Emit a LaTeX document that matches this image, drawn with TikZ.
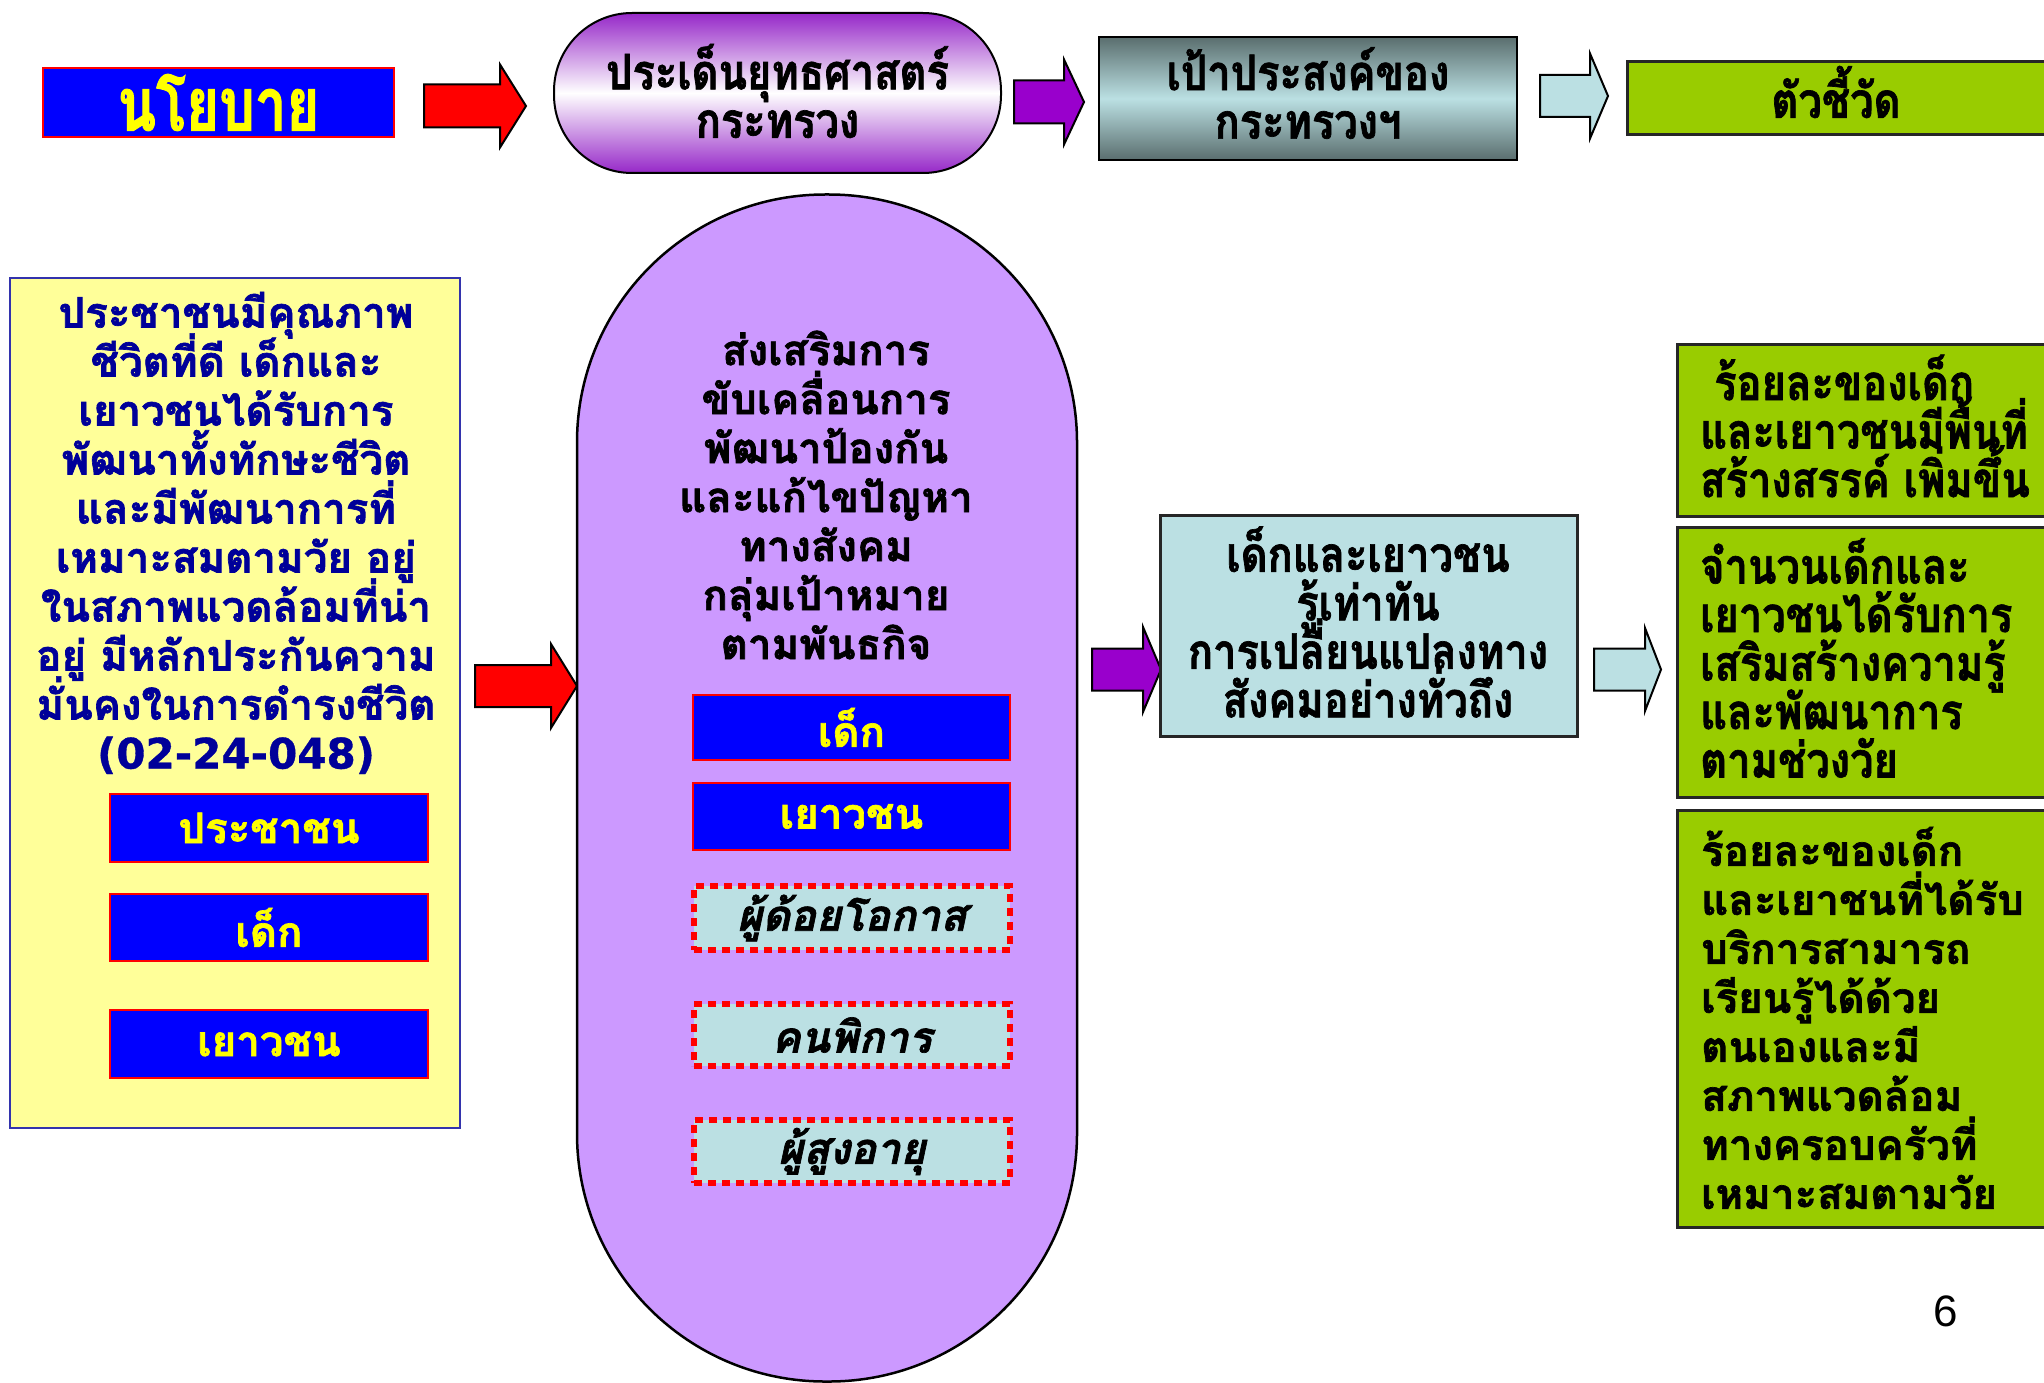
\documentclass[tikz,border=0pt]{standalone}
\usepackage{fontspec}
\setmainfont{Liberation Sans}
\newfontfamily\thai[Script=Thai,BoldFeatures={FakeBold=1.6},BoldItalicFeatures={FakeBold=1.6}]{Loma}
\newfontfamily\thaicond[Script=Thai,FakeStretch=0.85,BoldFeatures={FakeBold=1.4}]{Loma}
\newfontfamily\thaibig[Script=Thai,FakeStretch=0.76,BoldFeatures={FakeBold=1.4}]{Loma}
\newfontfamily\numfont[BoldFeatures={FakeBold=0.8}]{DejaVu Sans}
\newcommand\tightlines{\lineskiplimit=-200pt\relax}
\definecolor{pblue}{RGB}{0,0,255}
\definecolor{pyellow}{RGB}{255,255,0}
\definecolor{lyellow}{RGB}{255,255,153}
\definecolor{navy}{RGB}{0,0,153}
\definecolor{lpurple}{RGB}{204,153,255}
\definecolor{dpurple}{RGB}{153,0,204}
\definecolor{gpurple}{RGB}{150,40,200}
\definecolor{lblue}{RGB}{187,224,227}
\definecolor{lgreen}{RGB}{153,204,0}
\definecolor{slate}{RGB}{90,110,110}
\newcommand\blockarr[7]{%
  \draw[#1] (#2,#5-#6) -- (#3,#5-#6) -- (#3,#5-#7) -- (#4,#5) -- (#3,#5+#7) -- (#3,#5+#6) -- (#2,#5+#6) -- cycle;}
\tikzset{
  redarr/.style={draw=black, line width=2pt, fill=red},
  purparr/.style={draw=black, line width=2pt, fill=dpurple},
  bluearr/.style={draw=black, line width=2pt, fill=lblue},
  bluebox/.style={draw=red, line width=2.5pt, fill=pblue, text=pyellow, inner sep=0pt,
    font=\thai\bfseries\fontsize{42}{44}\selectfont},
  dotbox/.style={draw=red, line width=6.5pt, dash pattern=on 8pt off 6pt, fill=lblue, inner sep=0pt,
    font=\thai\bfseries\itshape\fontsize{43}{44}\selectfont},
  greenbox/.style={draw=black!85, line width=3pt, fill=lgreen, inner sep=0pt},
  condtext/.style={font=\thaicond\bfseries\fontsize{49}{48.5}\selectfont\tightlines, inner sep=0pt},
  widetext/.style={font=\thai\bfseries\fontsize{42}{49}\selectfont\tightlines, inner sep=0pt},
}
\begin{document}
\begin{tikzpicture}[x=1pt,y=-1pt]
\useasboundingbox (0,0) rectangle (2044,1383);
\fill[white] (0,0) rectangle (2044,1383);
% top row
\node[draw=red, line width=2.5pt, fill=pblue, minimum width=351pt, minimum height=69pt, inner sep=0pt,
  text=pyellow, font=\thaibig\bfseries\fontsize{74}{74}\selectfont] (policy) at (218.5,102.5) {นโยบาย};
\blockarr{redarr}{424}{500}{526}{106}{21.5}{41.5}
\node[draw=black, line width=2pt, rounded corners=78pt, minimum width=447pt, minimum height=160pt,
  top color=gpurple, bottom color=gpurple, middle color=white] (strat) at (777.5,93) {};
\node[condtext, align=center] (strattext) at (777.5,91) {ประเด็นยุทธศาสตร์\\กระทรวง};
\blockarr{purparr}{1014}{1064}{1084}{102}{21.5}{42.5}
\node[draw=black, line width=2.5pt, minimum width=418pt, minimum height=123pt,
  top color=slate, bottom color=slate, middle color=lblue] (goal) at (1308,98.5) {};
\node[condtext, align=center] (goaltext) at (1308,93) {เป้าประสงค์ของ\\กระทรวงฯ};
\blockarr{bluearr}{1540}{1590}{1608}{96}{21}{42.5}
\node[greenbox, minimum width=425pt, minimum height=73pt] (kpi) at (1839.5,98.5) {};
\node[condtext] (kpitext) at (1836,92) {ตัวชี้วัด};
% left yellow box
\node[draw=navy!80!white, line width=2pt, fill=lyellow, minimum width=450pt, minimum height=850pt] (vision) at (235,703) {};
\node[widetext, text=navy, align=center] (visiontext) at (236,533) {ประชาชนมีคุณภาพ\\ชีวิตที่ดี เด็กและ\\เยาวชนได้รับการ\\พัฒนาทั้งทักษะชีวิต\\และมีพัฒนาการที่\\เหมาะสมตามวัย อยู่\\ในสภาพแวดล้อมที่น่า\\อยู่ มีหลักประกันความ\\มั่นคงในการดำรงชีวิต\\{\numfont\bfseries (02-24-048)}};
\node[bluebox, minimum width=318pt, minimum height=68pt] (b1) at (269,828) {ประชาชน};
\node[bluebox, minimum width=318pt, minimum height=67pt] (b2) at (269,927.5) {เด็ก};
\node[bluebox, minimum width=318pt, minimum height=68pt] (b3) at (269,1044) {เยาวชน};
\blockarr{redarr}{475}{551}{577}{686}{21}{42}
% purple stadium
\node[draw=black, line width=2.5pt, fill=lpurple, rounded corners=248pt, minimum width=500pt, minimum height=1187pt] (mission) at (827,788) {};
\node[widetext, align=center] (missiontext) at (826,495) {ส่งเสริมการ\\ขับเคลื่อนการ\\พัฒนาป้องกัน\\และแก้ไขปัญหา\\ทางสังคม\\กลุ่มเป้าหมาย\\ตามพันธกิจ};
\node[bluebox, minimum width=317pt, minimum height=65pt] (m1) at (851.5,727.5) {เด็ก};
\node[bluebox, minimum width=317pt, minimum height=67pt] (m2) at (851.5,816.5) {เยาวชน};
\node[dotbox, minimum width=316pt, minimum height=64pt] (m3) at (852,918) {ผู้ด้อยโอกาส};
\node[dotbox, minimum width=316pt, minimum height=62pt] (m4) at (852,1035) {คนพิการ};
\node[dotbox, minimum width=316pt, minimum height=63pt] (m5) at (852,1151.5) {ผู้สูงอายุ};
\blockarr{purparr}{1092}{1143}{1161}{669.5}{21}{42.5}
% result box
\node[draw=black!85, line width=3pt, fill=lblue, minimum width=417pt, minimum height=221pt] (result) at (1368.5,625.5) {};
\node[condtext, align=center] (resulttext) at (1368,622) {เด็กและเยาวชน\\รู้เท่าทัน\\การเปลี่ยนแปลงทาง\\สังคมอย่างทั่วถึง};
\blockarr{bluearr}{1594}{1645}{1661}{669.5}{21}{41.5}
% indicators
\node[greenbox, minimum width=375pt, minimum height=172pt] (g1) at (1864.5,430) {};
\node[condtext, align=left, anchor=west] (g1text) at (1700,426) {\ ร้อยละของเด็ก\\และเยาวชนมีพื้นที่\\สร้างสรรค์ เพิ่มขึ้น};
\node[greenbox, minimum width=375pt, minimum height=270pt] (g2) at (1864.5,662) {};
\node[condtext, align=left, anchor=west] (g2text) at (1700,658) {จำนวนเด็กและ\\เยาวชนได้รับการ\\เสริมสร้างความรู้\\และพัฒนาการ\\ตามช่วงวัย};
\node[greenbox, minimum width=375pt, minimum height=417pt] (g3) at (1864.5,1018.5) {};
\node[widetext, align=left, anchor=west] (g3text) at (1701,1018) {ร้อยละของเด็ก\\และเยาชนที่ได้รับ\\บริการสามารถ\\เรียนรู้ได้ด้วย\\ตนเองและมี\\สภาพแวดล้อม\\ทางครอบครัวที่\\เหมาะสมตามวัย};
\node[font=\fontsize{44}{44}\selectfont, inner sep=0pt] (pagenum) at (1946,1311) {6};
\end{tikzpicture}
\end{document}
